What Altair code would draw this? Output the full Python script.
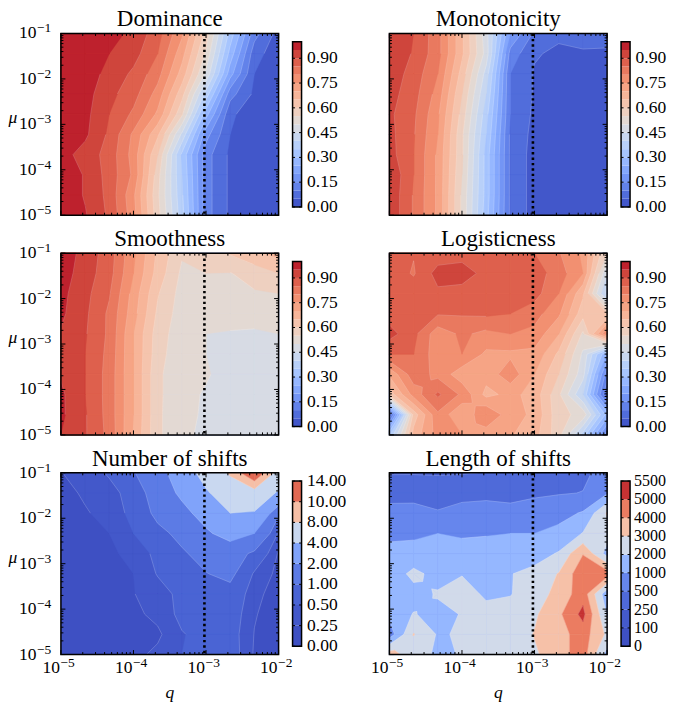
import math
import altair as alt
import pandas as pd

Q_GRID = [1e-5, 2.154e-5, 4.642e-5, 1e-4, 2.154e-4, 4.642e-4, 1e-3, 2.154e-3, 4.642e-3, 1e-2]
MU_GRID = [1e-1, 3.594e-2, 1.292e-2, 4.642e-3, 1.668e-3, 5.995e-4, 2.154e-4, 7.743e-5, 2.783e-5, 1e-5]

DOMINANCE = [
    [.99, .99, .965, .94, .87, .76, .58, .33, .12, .03],
    [.99, .985, .95, .92, .85, .72, .54, .28, .07, .02],
    [.99, .975, .935, .89, .82, .68, .49, .22, .05, .02],
    [.99, .97, .915, .87, .78, .62, .38, .12, .04, .02],
    [.99, .965, .90, .84, .74, .56, .27, .06, .02, .01],
    [.99, .96, .89, .79, .66, .44, .17, .05, .02, .01],
    [.97, .93, .88, .78, .60, .34, .12, .04, .01, .0],
    [.99, .945, .88, .79, .57, .35, .12, .04, .01, .0],
    [.99, .945, .885, .76, .56, .36, .12, .04, .01, .0],
    [.99, .955, .89, .77, .57, .37, .12, .04, .01, .0],
]
MONOTONICITY = [
    [.945, .90, .82, .66, .47, .20, .09, .06, .06, .06],
    [.94, .895, .82, .66, .48, .13, .055, .04, .047, .046],
    [.93, .88, .80, .63, .43, .10, .045, .03, .03, .03],
    [.92, .87, .78, .60, .40, .10, .045, .03, .02, .02],
    [.91, .86, .76, .58, .37, .10, .04, .02, .02, .02],
    [.915, .855, .75, .56, .35, .09, .035, .02, .01, .01],
    [.92, .85, .74, .56, .33, .09, .03, .015, .01, .01],
    [.945, .85, .74, .55, .33, .09, .03, .015, .01, .01],
    [.94, .845, .74, .54, .33, .09, .03, .015, .01, .01],
    [.94, .845, .74, .54, .32, .09, .03, .015, .01, .01],
]
SMOOTHNESS = [
    [.985, .93, .875, .76, .64, .556, .56, .605, .64, .67],
    [.975, .925, .87, .75, .63, .54, .55, .548, .57, .60],
    [.965, .915, .855, .73, .605, .53, .525, .53, .545, .55],
    [.96, .91, .84, .72, .59, .525, .52, .515, .515, .515],
    [.945, .905, .84, .70, .575, .52, .50, .497, .495, .50],
    [.945, .90, .835, .70, .57, .515, .50, .49, .485, .485],
    [.945, .90, .83, .70, .56, .515, .505, .48, .475, .475],
    [.96, .90, .83, .70, .56, .515, .495, .48, .475, .47],
    [.96, .905, .83, .70, .56, .51, .495, .475, .47, .47],
    [.95, .905, .835, .695, .56, .51, .49, .475, .47, .47],
]
LOGISTICNESS = [
    [.87, .853, .87, .875, .865, .865, .85, .805, .74, .55],
    [.88, .845, .92, .93, .88, .875, .875, .825, .75, .45],
    [.875, .88, .89, .875, .875, .88, .87, .80, .66, .38],
    [.875, .85, .855, .855, .86, .85, .82, .76, .62, .60],
    [.92, .865, .77, .81, .785, .80, .785, .70, .54, .80],
    [.85, .85, .77, .80, .74, .74, .735, .64, .49, .25],
    [.71, .83, .785, .72, .72, .78, .70, .60, .47, .12],
    [.62, .77, .86, .79, .685, .715, .68, .56, .40, .05],
    [.05, .62, .79, .70, .80, .72, .69, .565, .535, .28],
    [.35, .67, .77, .75, .72, .705, .67, .57, .38, .12],
]
NUM_SHIFTS = [
    [.24, .38, .53, .95, 1.6, 2.6, 5, 8.5, 12, 7],
    [.18, .28, .42, .6, 1.4, 2.2, 3.7, 5.5, 7, 3.5],
    [.14, .23, .32, .6, 1.15, 1.7, 2.4, 4.0, 3.7, 1.1],
    [.1, .16, .25, .5, .85, 1.15, 1.85, 2.4, 2.0, .45],
    [.08, .12, .2, .33, .58, .93, 1.2, 1.4, .85, .22],
    [.07, .1, .16, .25, .52, .74, .98, 1.15, .45, .18],
    [.06, .08, .14, .24, .38, .58, .7, .8, .32, .14],
    [.05, .07, .11, .19, .32, .58, .68, .7, .27, .12],
    [.04, .06, .09, .14, .2, .48, .6, .65, .24, .1],
    [.04, .05, .08, .18, .31, .5, .55, .68, .22, .08],
]
LEN_SHIFTS = [
    [240, 240, 235, 240, 255, 270, 290, 380, 420, 650],
    [350, 360, 345, 370, 380, 360, 420, 470, 510, 900],
    [640, 640, 530, 650, 700, 640, 740, 820, 1050, 3100],
    [890, 900, 1000, 920, 950, 1000, 1000, 1150, 2050, 2500],
    [1150, 1200, 1300, 1250, 1300, 1350, 1500, 2100, 3950, 1600],
    [1300, 2300, 1600, 1950, 1650, 1950, 2350, 3050, 4700, 4500],
    [1500, 1600, 2100, 2400, 1850, 1950, 2550, 3300, 4600, 1300],
    [1300, 2050, 1700, 2050, 2300, 2400, 2850, 3800, 5300, 1900],
    [450, 3050, 1900, 2100, 2200, 2400, 3050, 3600, 4500, 2800],
    [3500, 2400, 1850, 2050, 2200, 2500, 2850, 3600, 4500, 1600],
]

UNIT_LEVELS = [round(i * 0.05, 2) for i in range(21)]
UNIT_TICKS = [0.0, 0.15, 0.30, 0.45, 0.60, 0.75, 0.90]
NUM_LEVELS = [0, .25, .5, 1, 2, 4, 8, 10, 14]
LEN_LEVELS = [0, 100, 250, 500, 1000, 2000, 3000, 4000, 5000, 5500]

COOLWARM = [
    (59, 76, 192), (68, 90, 204), (77, 104, 215), (87, 117, 225), (98, 130, 234), (108, 142, 241),
    (119, 154, 247), (130, 165, 251), (141, 176, 254), (152, 185, 255), (163, 194, 255), (174, 201, 253),
    (184, 208, 249), (194, 213, 244), (204, 217, 238), (213, 219, 230), (221, 221, 221), (229, 216, 209),
    (236, 211, 197), (241, 204, 185), (245, 196, 173), (247, 187, 160), (247, 177, 148), (247, 166, 135),
    (244, 154, 123), (241, 141, 111), (236, 127, 99), (229, 112, 88), (222, 96, 77), (213, 80, 66),
    (203, 62, 56), (192, 40, 47), (180, 4, 38),
]

W, H, BAR_W = 218, 182, 9
FONT = "Liberation Serif"
LABEL_SIZE = 17.5
EXP_SIZE = 13.5
TITLE_SIZE = 23
DOTTED_Q = 9.5e-4

Q_MAJOR = [1e-5, 1e-4, 1e-3, 1e-2]
MU_MAJOR = [1e-5, 1e-4, 1e-3, 1e-2, 1e-1]
Q_EXPONENTS = ["−5", "−4", "−3", "−2"]
MU_EXPONENTS = ["−5", "−4", "−3", "−2", "−1"]
Q_MINOR = [m * d for d in [1e-5, 1e-4, 1e-3] for m in range(2, 10)]
MU_MINOR = [m * d for d in [1e-5, 1e-4, 1e-3, 1e-2] for m in range(2, 10)]
MAJOR_LEN, MINOR_LEN = 4.5, 2.5


def cool(t):
    t = min(max(t, 0.0), 1.0) * (len(COOLWARM) - 1)
    i = min(int(t), len(COOLWARM) - 2)
    f = t - i
    rgb = [round(COOLWARM[i][k] * (1 - f) + COOLWARM[i + 1][k] * f) for k in range(3)]
    return "#%02x%02x%02x" % tuple(rgb)


def clip(poly, level):
    out = []
    n = len(poly)
    for a in range(n):
        p, q = poly[a], poly[(a + 1) % n]
        ina, inb = p[2] >= level, q[2] >= level
        if ina:
            out.append(p)
        if ina != inb:
            f = (level - p[2]) / (q[2] - p[2])
            out.append((p[0] + f * (q[0] - p[0]), p[1] + f * (q[1] - p[1]), level))
    return out


def cells(grid):
    lq = [math.log10(v) for v in Q_GRID]
    lm = [math.log10(v) for v in MU_GRID]
    for r in range(len(lm) - 1):
        for c in range(len(lq) - 1):
            yield [
                (lq[c], lm[r], grid[r][c]),
                (lq[c + 1], lm[r], grid[r][c + 1]),
                (lq[c + 1], lm[r + 1], grid[r + 1][c + 1]),
                (lq[c], lm[r + 1], grid[r + 1][c]),
            ]


def pieces(cell, level):
    """A cell whose corners alternate around the level is split about its mean."""
    up = [p[2] >= level for p in cell]
    if up[0] == up[2] and up[1] == up[3] and up[0] != up[1]:
        mid = tuple(sum(p[k] for p in cell) / 4 for k in range(3))
        return [[cell[a], cell[(a + 1) % 4], mid] for a in range(4)]
    return [cell]


def band_rows(grid, lo):
    rows, pid = [], 0
    for cell in cells(grid):
        for poly in pieces(cell, lo):
            part = clip(poly, lo)
            if len(part) >= 3:
                for k, p in enumerate(part + part[:1]):
                    rows.append({"q": 10 ** p[0], "mu": 10 ** p[1], "k": k, "pid": pid})
                pid += 1
    return rows


def line_rows(grid, levels):
    rows, sid = [], 0
    for lev in levels:
        for cell in cells(grid):
            for poly in pieces(cell, lev):
                pts = []
                n = len(poly)
                for a in range(n):
                    p, q = poly[a], poly[(a + 1) % n]
                    if (p[2] - lev) * (q[2] - lev) < 0:
                        f = (lev - p[2]) / (q[2] - p[2])
                        pts.append((p[0] + f * (q[0] - p[0]), p[1] + f * (q[1] - p[1])))
                for j in range(0, len(pts) - 1, 2):
                    for k in (0, 1):
                        rows.append({"q": 10 ** pts[j + k][0], "mu": 10 ** pts[j + k][1], "k": k, "pid": sid})
                    sid += 1
    return rows


def panel(title, grid, levels, left, bottom):
    xs = alt.Scale(type="log", domain=[1e-5, 1e-2], nice=False)
    ys = alt.Scale(type="log", domain=[1e-5, 1e-1], nice=False)
    Xn = alt.X("q:Q", scale=xs, axis=None)
    Yn = alt.Y("mu:Q", scale=ys, axis=None)
    one = pd.DataFrame({"a": [0]})
    top = levels[-1]
    layers = [alt.Chart(one).mark_rect(color=cool((levels[0] + levels[1]) / 2 / top)).encode(
        x=alt.value(0), x2=alt.value(W), y=alt.value(0), y2=alt.value(H))]
    for lo, hi in zip(levels[1:-1], levels[2:]):
        rows = band_rows(grid, lo)
        if not rows:
            continue
        col = cool((lo + hi) / 2 / top)
        layers.append(
            alt.Chart(pd.DataFrame(rows)).mark_line(filled=True, fill=col, stroke=col, strokeWidth=0.4).encode(
                x=Xn, y=Yn, order=alt.Order("k:Q"), detail="pid:N"))
    lines = line_rows(grid, levels[1:-1])
    if lines:
        layers.append(
            alt.Chart(pd.DataFrame(lines)).mark_line(stroke="white", strokeOpacity=0.3, strokeWidth=0.6).encode(
                x=Xn, y=Yn, order=alt.Order("k:Q"), detail="pid:N"))
    layers.append(
        alt.Chart(pd.DataFrame({"q": [DOTTED_Q]})).mark_rule(color="black", strokeWidth=2.6, strokeDash=[2.4, 3]).encode(x=Xn))
    for vals, ln in ((Q_MAJOR, MAJOR_LEN), (Q_MINOR, MINOR_LEN)):
        d = pd.DataFrame({"q": vals})
        layers.append(alt.Chart(d).mark_rule(color="black", strokeWidth=1).encode(
            x=Xn, y=alt.value(H), y2=alt.value(H - ln)))
        layers.append(alt.Chart(d).mark_rule(color="black", strokeWidth=1).encode(
            x=Xn, y=alt.value(0), y2=alt.value(ln)))
    for vals, ln in ((MU_MAJOR, MAJOR_LEN), (MU_MINOR, MINOR_LEN)):
        d = pd.DataFrame({"mu": vals})
        layers.append(alt.Chart(d).mark_rule(color="black", strokeWidth=1).encode(
            y=Yn, x=alt.value(0), x2=alt.value(ln)))
        layers.append(alt.Chart(d).mark_rule(color="black", strokeWidth=1).encode(
            y=Yn, x=alt.value(W), x2=alt.value(W - ln)))
    layers.append(alt.Chart(one).mark_rect(fillOpacity=0, stroke="black", strokeWidth=1.5).encode(
        x=alt.value(0), x2=alt.value(W), y=alt.value(0), y2=alt.value(H)))
    layers.append(alt.Chart(one).mark_text(font=FONT, fontSize=TITLE_SIZE, color="black", baseline="alphabetic").encode(
        x=alt.value(W / 2), y=alt.value(-7), text=alt.value(title)))
    if left:
        d = pd.DataFrame({"mu": MU_MAJOR, "t": MU_EXPONENTS})
        layers.append(alt.Chart(d).mark_text(text="10", font=FONT, fontSize=LABEL_SIZE, color="black", align="right", baseline="middle").encode(
            y=Yn, x=alt.value(-24.5)))
        layers.append(alt.Chart(d).mark_text(font=FONT, fontSize=EXP_SIZE, color="black", align="left", baseline="middle", dy=-5).encode(
            y=Yn, x=alt.value(-24), text="t:N"))
        layers.append(alt.Chart(one).mark_text(font=FONT, fontSize=LABEL_SIZE, fontStyle="italic", color="black", align="center").encode(
            x=alt.value(-48), y=alt.value(85), text=alt.value("μ")))
    if bottom:
        d = pd.DataFrame({"q": Q_MAJOR, "t": Q_EXPONENTS})
        layers.append(alt.Chart(d).mark_text(text="10", font=FONT, fontSize=LABEL_SIZE, color="black", align="right", baseline="middle", dx=-1).encode(
            x=Xn, y=alt.value(H + 13.5)))
        layers.append(alt.Chart(d).mark_text(font=FONT, fontSize=EXP_SIZE, color="black", align="left", baseline="middle", dx=-0.5, dy=-5).encode(
            x=Xn, y=alt.value(H + 13.5), text="t:N"))
        layers.append(alt.Chart(one).mark_text(font=FONT, fontSize=LABEL_SIZE, fontStyle="italic", color="black").encode(
            x=alt.value(W / 2), y=alt.value(H + 38.5), text=alt.value("q")))
    return alt.layer(*layers).properties(width=W, height=H, view=alt.ViewBackground(stroke=None))


def colorbar(positions, tick_pos, tick_text, colors, dom, view_w, size=LABEL_SIZE, gap=5.5):
    ys = alt.Scale(domain=dom, nice=False, zero=False)
    Y = alt.Y("a:Q", scale=ys, axis=None)
    bands = pd.DataFrame({"a": positions[:-1], "b": positions[1:], "c": colors})
    ticks = pd.DataFrame({"a": tick_pos, "t": tick_text})
    frame = pd.DataFrame({"a": [positions[0]], "b": [positions[-1]]})
    base = [
        alt.Chart(bands).mark_rect().encode(
            y=Y, y2="b:Q", x=alt.value(0), x2=alt.value(BAR_W), color=alt.Color("c:N", scale=None)),
        alt.Chart(ticks).mark_rule(color="black", strokeWidth=1).encode(y=Y, x=alt.value(0), x2=alt.value(2.5)),
        alt.Chart(ticks).mark_rule(color="black", strokeWidth=1).encode(y=Y, x=alt.value(BAR_W - 2.5), x2=alt.value(BAR_W)),
        alt.Chart(frame).mark_rect(fillOpacity=0, stroke="black", strokeWidth=1.5).encode(
            y=Y, y2="b:Q", x=alt.value(0), x2=alt.value(BAR_W)),
        alt.Chart(ticks).mark_text(font=FONT, fontSize=size, align="left", baseline="middle", color="black").encode(
            y=Y, x=alt.value(BAR_W + gap), text="t:N"),
    ]
    return alt.layer(*base).properties(width=view_w, height=H, view=alt.ViewBackground(stroke=None))


unit_colors = [cool((a + b) / 2) for a, b in zip(UNIT_LEVELS[:-1], UNIT_LEVELS[1:])]
num_colors = [cool((a + b) / 2 / 14) for a, b in zip(NUM_LEVELS[:-1], NUM_LEVELS[1:])]
len_colors = [cool((a + b) / 2 / 5500) for a, b in zip(LEN_LEVELS[:-1], LEN_LEVELS[1:])]


def unit_bar(view_w):
    return colorbar(UNIT_LEVELS, UNIT_TICKS, ["%.2f" % v for v in UNIT_TICKS], unit_colors, [-0.05, 1.05], view_w)


num_pos = list(range(len(NUM_LEVELS)))
len_pos = list(range(len(LEN_LEVELS)))
num_bar = colorbar(num_pos, num_pos, ["%.2f" % v for v in NUM_LEVELS], num_colors, [-0.4, 8.4], 83)
len_bar = colorbar(len_pos, len_pos, [str(v) for v in LEN_LEVELS], len_colors, [-0.45, 9.45], 36, size=16, gap=4)

charts = [
    panel("Dominance", DOMINANCE, UNIT_LEVELS, True, False), unit_bar(83),
    panel("Monotonicity", MONOTONICITY, UNIT_LEVELS, False, False), unit_bar(36),
    panel("Smoothness", SMOOTHNESS, UNIT_LEVELS, True, False), unit_bar(83),
    panel("Logisticness", LOGISTICNESS, UNIT_LEVELS, False, False), unit_bar(36),
    panel("Number of shifts", NUM_SHIFTS, NUM_LEVELS, True, True), num_bar,
    panel("Length of shifts", LEN_SHIFTS, LEN_LEVELS, False, True), len_bar,
]

chart = alt.concat(*charts, columns=4, align="each", bounds="flush",
                   spacing=alt.RowColnumber(row=38, column=14)).properties(
    padding={"left": 0, "top": 0, "right": 0, "bottom": 0}
).configure(font=FONT)

chart.save("out.html", embed_options={"renderer": "svg", "actions": False})
